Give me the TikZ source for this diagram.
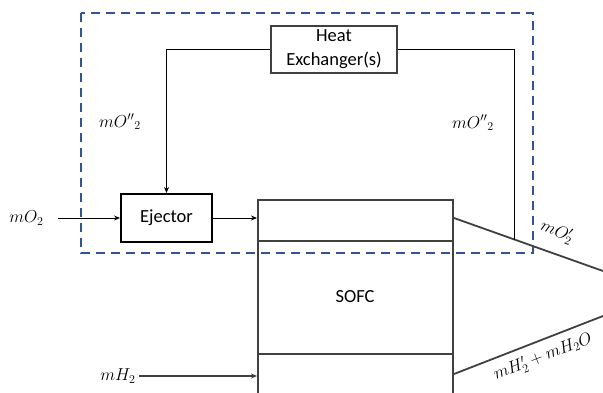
\documentclass[tikz,border=0pt]{standalone}
\usepackage{amsmath}
\usepackage{fontspec}
\setsansfont{Carlito}
\usetikzlibrary{arrows.meta}
\usetikzlibrary{calc}

\definecolor{cvblue}{HTML}{2F5597}
\definecolor{unitgray}{HTML}{404040}

\tikzset{
  unit/.style={draw=unitgray, line width=2pt, inner sep=0pt, align=center,
    font=\sffamily\fontsize{18.5}{24}\selectfont},
  flow/.style={-{Stealth[length=6pt,width=5pt]}, line width=0.9pt},
  pipe/.style={unitgray, line width=1.8pt},
  lbl/.style={font=\fontsize{17}{19}\selectfont}
}

\begin{document}
\begin{tikzpicture}[x=1pt,y=-1pt]
        \useasboundingbox (0,0) rectangle (603,392);
        % control volume
        \draw[cvblue, line width=2pt, dash pattern=on 9pt off 6pt] (81,13) rectangle (533,253);
        % units
        \node[unit, minimum width=126pt, minimum height=47pt] (hx) at (334,49.5) {Heat\\Exchanger(s)};
        \node[unit, draw=black, minimum width=91pt, minimum height=48pt] (ej) at (166.5,218) {Ejector};
        \node[unit, minimum width=195pt, minimum height=200pt] (sofc) at (355.5,300) {};
        \node[font=\sffamily\fontsize{18.5}{20}\selectfont] (sofclbl) at (355,297) {SOFC};
        \draw[unitgray, line width=1.8pt] (sofc.west |- 0,241) -- (sofc.east |- 0,241);
        \draw[unitgray, line width=1.8pt] (sofc.west |- 0,354) -- (sofc.east |- 0,354);
        % outlet lines
        \coordinate (o2out) at (sofc.east |- 0,218);
        \coordinate (o2end) at (603,271);
        \coordinate (h2out) at (sofc.east |- 0,374);
        \coordinate (h2end) at (603,316);
        \draw[pipe] (o2out) -- (o2end);
        \draw[pipe] (h2out) -- (h2end);
        \coordinate (split) at ($(o2out)!0.4067!(o2end)$);
        % recirculation
        \draw[line width=0.9pt] (hx.east) -| (split);
        \draw[flow] (hx.west) -| (ej.north);
        % inlets
        \node[lbl, anchor=east] (o2lbl) at (47,218) {$mO_2$};
        \draw[flow, shorten <=11pt] (o2lbl.east) -- (ej.west);
        \draw[flow] (ej.east) -- (ej.east -| sofc.west);
        \node[lbl, anchor=east] (h2lbl) at (139,376) {$mH_2$};
        \draw[flow, unitgray, line width=1.3pt] (h2lbl.east) -- (h2lbl.east -| sofc.west);
        % stream labels
        \node[lbl] (recl) at (120,122) {$mO''{}_2$};
        \node[lbl] (recr) at (473,123) {$mO''{}_2$};
        \node[lbl, rotate=-22] (o2outlbl) at (557,232) {$mO_2'$};
        \node[lbl, rotate=21] (h2outlbl) at (543,357) {$mH_2' + mH_2O$};
\end{tikzpicture}
\end{document}
